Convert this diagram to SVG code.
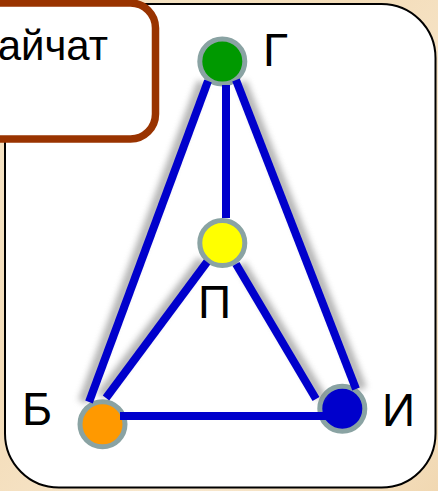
<svg xmlns="http://www.w3.org/2000/svg" width="438" height="491" viewBox="0 0 438 491">
  <defs>
    <linearGradient id="bg" x1="0" y1="0" x2="1" y2="1">
      <stop offset="0" stop-color="#f6e6c9"/>
      <stop offset="0.4" stop-color="#f3dcb8"/>
      <stop offset="0.7" stop-color="#f8e8cf"/>
      <stop offset="1" stop-color="#f1d8b2"/>
    </linearGradient>
    <filter id="blur" x="-20%" y="-20%" width="140%" height="140%">
      <feGaussianBlur stdDeviation="3"/>
    </filter>
    <style>
      .panel { fill: #ffffff; stroke: #000000; stroke-width: 2; }
      .box { fill: #ffffff; stroke: #993300; stroke-width: 7.5; }
      .edge { stroke: #0000cc; stroke-width: 8; fill: none; stroke-linecap: butt; }
      .shadow { stroke: #8c8c8c; stroke-width: 10; fill: none; opacity: 0.65; filter: url(#blur); }
      .node { stroke: #8aa3a3; stroke-width: 5; }
      .lbl { font-family: "Liberation Sans", Arial, sans-serif; font-size: 46px; fill: #000000; }
      .boxtxt { font-family: "Liberation Sans", Arial, sans-serif; font-size: 42px; fill: #000000; }
    </style>
  </defs>

  <rect x="0" y="0" width="438" height="491" fill="url(#bg)"/>
  <rect class="panel" x="5" y="4" width="430.5" height="483.5" rx="54" ry="54"/>

  <g id="box">
    <rect class="box" x="-30" y="3" width="185.5" height="136" rx="25" ry="25"/>
    <text class="boxtxt" x="108" y="60" text-anchor="end">айчат</text>
  </g>

  <g id="node-G">
    <circle class="node" cx="222.3" cy="61.5" r="22.5" fill="#009900"/>
    <text class="lbl" x="263" y="66">Г</text>
  </g>
  <g id="node-P">
    <circle class="node" cx="222.3" cy="243" r="22.5" fill="#ffff00"/>
    <text class="lbl" x="198" y="318">П</text>
  </g>
  <g id="node-B">
    <circle class="node" cx="102.5" cy="424.3" r="22.5" fill="#ff9900"/>
    <text class="lbl" x="22" y="425">Б</text>
  </g>
  <g id="node-I">
    <circle class="node" cx="342.3" cy="408.7" r="22.5" fill="#0000cc"/>
    <text class="lbl" x="382" y="425.5">И</text>
  </g>

  <g id="connectors">
    <g id="shadows">
      <line class="shadow" x1="220" y1="88" x2="220" y2="217"/>
      <line class="shadow" x1="202" y1="82" x2="83" y2="402"/>
      <line class="shadow" x1="242" y1="82" x2="362" y2="389"/>
      <line class="shadow" x1="202" y1="260" x2="101" y2="396"/>
      <line class="shadow" x1="241" y1="264" x2="322" y2="398"/>
      <line class="shadow" x1="125" y1="410" x2="330" y2="410"/>
    </g>
    <line class="edge" x1="226" y1="85" x2="226" y2="218"/>
    <line class="edge" x1="208" y1="81" x2="89" y2="402"/>
    <line class="edge" x1="236" y1="80" x2="356" y2="389"/>
    <line class="edge" x1="207" y1="262" x2="106" y2="398"/>
    <line class="edge" x1="236" y1="264" x2="316" y2="399"/>
    <line class="edge" x1="120" y1="416" x2="330" y2="416"/>
  </g>
</svg>
